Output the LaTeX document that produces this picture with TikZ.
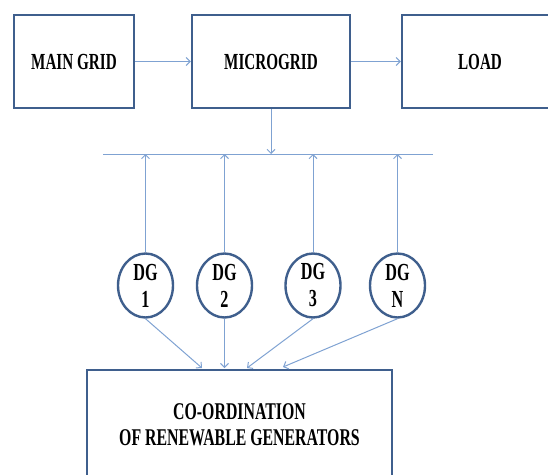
\documentclass[tikz,border=0pt]{standalone}
\usepackage{fontspec}
\setmainfont{Liberation Serif}
\newfontfamily\condfont[FakeStretch=0.66]{Liberation Serif}
\usetikzlibrary{arrows.meta,shapes.geometric}
\definecolor{boxblue}{HTML}{3F5F8D}
\definecolor{linkblue}{HTML}{7FA2D2}
\begin{document}
\begin{tikzpicture}[x=1pt,y=-1pt,
  blockbox/.style={draw=boxblue, line width=2.4pt, fill=white, inner sep=0pt,
    font=\condfont\bfseries\fontsize{23}{26}\selectfont},
  dgnode/.style={ellipse, draw=boxblue, line width=2.4pt, fill=white,
    minimum width=55, minimum height=64, inner sep=0pt, align=center,
    font=\condfont\bfseries\fontsize{24.5}{27}\selectfont},
  labeltext/.style={align=center, inner sep=0pt,
    font=\condfont\bfseries\fontsize{24}{26}\selectfont},
  link/.style={draw=linkblue, line width=1pt, -{Straight Barb[length=4pt,width=8pt]}},
  plainlink/.style={draw=linkblue, line width=1pt}]
\useasboundingbox (0,0) rectangle (548,474);
\clip (0,0) rectangle (548,474);
% top blocks
\node[blockbox, minimum width=120, minimum height=93] (main) at (74,61.5) {MAIN GRID};
\node[blockbox, minimum width=158, minimum height=93] (micro) at (271,61.5) {MICROGRID};
\node[blockbox, minimum width=156, minimum height=93] (load) at (480,61.5) {LOAD};
\draw[link] (main.east) -- (micro.west);
\draw[link] (micro.east) -- (load.west);
% bus
\coordinate (busL) at (103,154);
\coordinate (busR) at (433,154);
\draw[plainlink] (busL) -- (busR);
\draw[link] (micro.south) -- (micro.south |- busL);
% DG units
\node[dgnode] (dg1) at (145.5,285.5) {DG\\1};
\node[dgnode] (dg2) at (224.5,285.5) {DG\\2};
\node[dgnode] (dg3) at (313,285.5) {DG\\3};
\node[dgnode] (dgn) at (397.5,285.5) {DG\\N};
\foreach \d in {dg1,dg2,dg3,dgn}{
  \draw[link] (\d.north) -- (\d.north |- busL);
}
% coordination block
\node[blockbox, minimum width=305, minimum height=122] (coord) at (239.5,431) {};
\node[labeltext] (coordtext) at (239.5,425) {CO-ORDINATION\\OF RENEWABLE GENERATORS};
\coordinate (c1) at (202,368);
\coordinate (c2) at (224.5,368);
\coordinate (c3) at (247,368);
\coordinate (c4) at (283,367);
\draw[link] (dg1.south) -- (c1);
\draw[link] (dg2.south) -- (c2);
\draw[link] (dg3.south) -- (c3);
\draw[link] (dgn.south) -- (c4);
\end{tikzpicture}
\end{document}
